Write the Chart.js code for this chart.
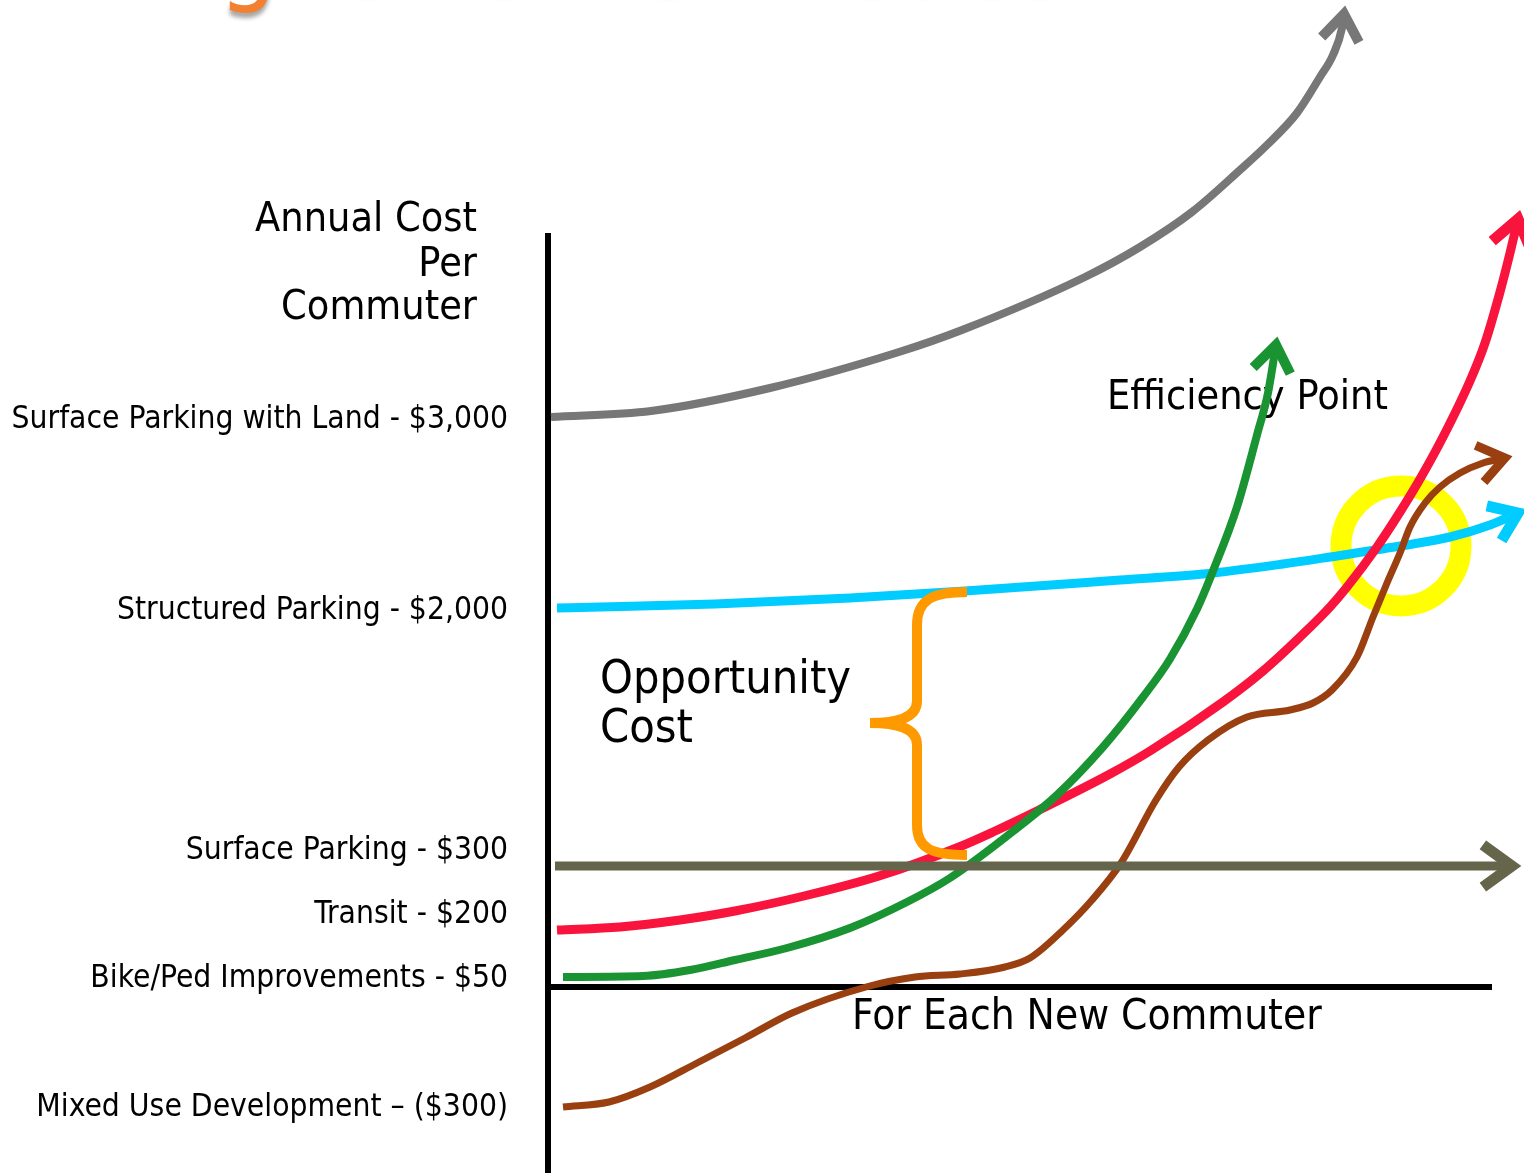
<!DOCTYPE html>
<html>
<head>
<meta charset="utf-8">
<script src="https://cdn.jsdelivr.net/npm/chart.js@4.4.1/dist/chart.umd.min.js"></script>
<style>
  html, body { margin: 0; padding: 0; background: #fff; }
  canvas { display: block; }
</style>
</head>
<body>
<canvas id="myChart" width="1524" height="1173"></canvas>
<script>
const FONT = '"DejaVu Sans Condensed", "DejaVu Sans", sans-serif'

// cost levels on the y axis (chart units) and their labels
const tickLevels = [56.7, 37.6, 13.6, 7.2, 0.8, -12.1]
const tickLabels = [
    "Surface Parking with Land - $3,000",
    "Structured Parking - $2,000",
    "Surface Parking - $300",
    "Transit - $200",
    "Bike/Ped Improvements - $50",
    "Mixed Use Development \u2013 ($300)",
]

// x = new commuters, y = annual cost per commuter (index units)
const grayX = [0.3, 10.3, 22.2, 35.1, 41.4, 53.7, 59.2, 64.4, 69.2, 71.9, 74.9, 77.2, 78.5, 79.4, 79.6]
const grayY = [57.0, 57.6, 59.9, 63.5, 65.7, 71.0, 74.0, 77.5, 81.7, 84.2, 87.4, 91.0, 93.2, 95.9, 97.3]

const cyanX = [0.9, 5.2, 16.7, 30.2, 41.7, 57.2, 65.5, 73.5, 78.2, 85.2, 90.2, 94.2, 97.0]
const cyanY = [37.9, 38.0, 38.3, 38.9, 39.6, 40.7, 41.3, 42.3, 43.0, 44.1, 45.0, 46.2, 47.4]

const redX = [0.9, 7.2, 13.2, 18.7, 25.6, 33.1, 41.1, 44.5, 49.1, 56.2, 60.2, 67.5, 71.5, 75.2, 78.2, 79.9, 82.9, 85.2, 87.2, 89.5, 92.2, 93.7, 95.2, 96.2, 97.0]
const redY = [5.7, 6.0, 6.7, 7.6, 9.1, 11.1, 14.0, 15.5, 17.7, 21.3, 23.6, 28.5, 31.6, 35.0, 38.0, 40.0, 44.0, 47.5, 50.8, 55.0, 60.6, 64.4, 69.5, 73.4, 76.8]

const greenX = [1.5, 9.5, 14.2, 18.7, 23.9, 30.2, 35.9, 40.2, 46.8, 50.9, 55.5, 59.5, 62.2, 64.9, 66.5, 68.9, 70.9, 72.0, 72.8]
const greenY = [1.0, 1.1, 1.7, 2.7, 3.9, 5.9, 8.5, 10.9, 15.8, 19.2, 24.0, 29.0, 32.8, 37.8, 41.6, 48.0, 55.2, 59.4, 64.2]

const brownX = [1.5, 6.1, 10.2, 14.9, 19.7, 24.4, 31.8, 36.7, 41.2, 45.7, 48.2, 51.5, 54.4, 57.3, 60.8, 63.1, 66.0, 69.9, 74.2, 76.5, 78.4, 80.9, 82.5, 83.9, 85.2, 86.2, 87.7, 89.2, 91.2, 93.5, 95.7]
const brownY = [-12.0, -11.5, -10.0, -7.6, -5.1, -2.6, 0.0, 1.0, 1.3, 2.0, 2.9, 5.7, 8.7, 12.4, 18.7, 22.0, 24.7, 27.0, 27.7, 28.4, 29.7, 33.0, 37.0, 40.4, 43.4, 46.0, 48.4, 50.0, 51.4, 52.4, 52.9]

const oliveX = [0.7, 96.4]
const oliveY = [12.1, 12.1]

// efficiency point (yellow ring)
const effX = [85.3]
const effY = [44.1]

function pts(xs, ys) {
    return xs.map((x, i) => ({ x: x, y: ys[i] }))
}

function curve(xs, ys, color, width, arrow) {
    return {
        data: pts(xs, ys),
        borderColor: color,
        borderWidth: width,
        pointRadius: 0,
        cubicInterpolationMode: "monotone",
        arrow: arrow,
    }
}

// axis lines, labels, brace, arrow heads
const backdrop = {
    id: "backdrop",
    beforeDatasetsDraw(chart) {
        const c = chart.ctx
        const { x, y } = chart.scales
        c.save()
        c.strokeStyle = "#000"
        c.lineWidth = 6
        c.beginPath()
        c.moveTo(x.getPixelForValue(0), y.getPixelForValue(75.4))
        c.lineTo(x.getPixelForValue(0), y.getPixelForValue(y.min))
        c.moveTo(x.getPixelForValue(0), y.getPixelForValue(0))
        c.lineTo(x.getPixelForValue(94.4), y.getPixelForValue(0))
        c.stroke()

        c.fillStyle = "#000"
        c.textBaseline = "middle"
        c.font = "41px " + FONT
        c.textAlign = "right"
        c.fillText("Annual Cost", 477, 220)
        c.fillText("Per", 477, 265)
        c.fillText("Commuter", 477, 308)

        c.textAlign = "left"
        c.fillText("Efficiency Point", x.getPixelForValue(55.9), y.getPixelForValue(58.9))
        c.font = "42px " + FONT
        c.fillText("For Each New Commuter", x.getPixelForValue(30.4), y.getPixelForValue(-3.1))
        c.font = "46.5px " + FONT
        c.fillText("Opportunity", x.getPixelForValue(5.2), y.getPixelForValue(30.6))
        c.fillText("Cost", x.getPixelForValue(5.2), y.getPixelForValue(25.7))
        c.restore()
    },
    afterDatasetsDraw(chart) {
        const c = chart.ctx
        const { x, y } = chart.scales
        // opportunity cost brace
        const bx = x.getPixelForValue(36.9)
        const tx = x.getPixelForValue(32.2)
        const ex = x.getPixelForValue(41.9)
        const top = y.getPixelForValue(39.5)
        const mid = y.getPixelForValue(26.4)
        const bot = y.getPixelForValue(13.2)
        c.save()
        c.strokeStyle = "#ff9900"
        c.lineWidth = 10
        c.beginPath()
        c.moveTo(ex, top)
        c.bezierCurveTo(bx + 15, top, bx, top + 8, bx, top + 33)
        c.lineTo(bx, mid - 22)
        c.bezierCurveTo(bx, mid - 4, bx - 22, mid, tx, mid)
        c.bezierCurveTo(bx - 22, mid, bx, mid + 4, bx, mid + 22)
        c.lineTo(bx, bot - 30)
        c.bezierCurveTo(bx, bot - 6, bx + 15, bot, ex, bot)
        c.stroke()
        c.restore()

        // arrow heads at the ends of the curves
        chart.data.datasets.forEach((ds, i) => {
            if (!ds.arrow) return
            const p = chart.getDatasetMeta(i).data
            const a = p[p.length - 2]
            const b = p[p.length - 1]
            const ang = Math.atan2(b.y - a.y, b.x - a.x)
            const spread = Math.PI / 5
            c.save()
            c.strokeStyle = ds.borderColor
            c.lineWidth = ds.borderWidth + 2
            c.lineJoin = "miter"
            c.beginPath()
            c.moveTo(b.x - ds.arrow * Math.cos(ang - spread), b.y - ds.arrow * Math.sin(ang - spread))
            c.lineTo(b.x, b.y)
            c.lineTo(b.x - ds.arrow * Math.cos(ang + spread), b.y - ds.arrow * Math.sin(ang + spread))
            c.stroke()
            c.restore()
        })
    },
    afterDraw(chart) {
        // slide title, cut off by the top edge
        const c = chart.ctx
        c.save()
        c.font = "104px " + FONT
        c.fillStyle = "#f28030"
        c.textAlign = "right"
        c.textBaseline = "alphabetic"
        c.shadowColor = "rgba(0,0,0,0.35)"
        c.shadowOffsetY = 5
        c.shadowBlur = 4
        c.fillText("Planning for Other Modes", 1065, -9)
        c.restore()
    },
}

const ctx = document.getElementById("myChart").getContext("2d")

const myChart = new Chart(ctx, {
    type: "line",
    data: {
        datasets: [
            curve(oliveX, oliveY, "#65654b", 9, 36),
            curve(greenX, greenY, "#1a9433", 8, 32),
            curve(brownX, brownY, "#9a3f10", 7, 32),
            curve(redX, redY, "#f8143c", 9, 34),
            curve(cyanX, cyanY, "#00ccff", 9, 32),
            curve(grayX, grayY, "#777777", 8, 32),
            {
                data: pts(effX, effY),
                showLine: false,
                pointRadius: 60,
                pointBorderWidth: 21,
                pointBorderColor: "#ffff00",
                pointBackgroundColor: "rgba(0,0,0,0)",
            },
        ],
    },
    options: {
        responsive: false,
        animation: false,
        layout: { padding: 0, autoPadding: false },
        plugins: {
            legend: { display: false },
            tooltip: { enabled: false },
        },
        scales: {
            x: {
                type: "linear",
                display: false,
                min: 0,
                max: 97.6,
            },
            y: {
                type: "linear",
                min: -18.6,
                max: 98.7,
                grid: { display: false, drawTicks: false },
                border: { display: false },
                afterFit(scale) {
                    // room for the long cost labels, no extra space above/below
                    scale.width = 548
                    scale.paddingTop = 0
                    scale.paddingBottom = 0
                },
                afterBuildTicks(scale) {
                    scale.ticks = tickLevels.map((v) => ({ value: v }))
                },
                ticks: {
                    autoSkip: false,
                    padding: 40,
                    color: "#000",
                    font: { family: FONT, size: 31.5 },
                    callback: (value, index) => tickLabels[index],
                },
            },
        },
    },
    plugins: [backdrop],
})
</script>
</body>
</html>
